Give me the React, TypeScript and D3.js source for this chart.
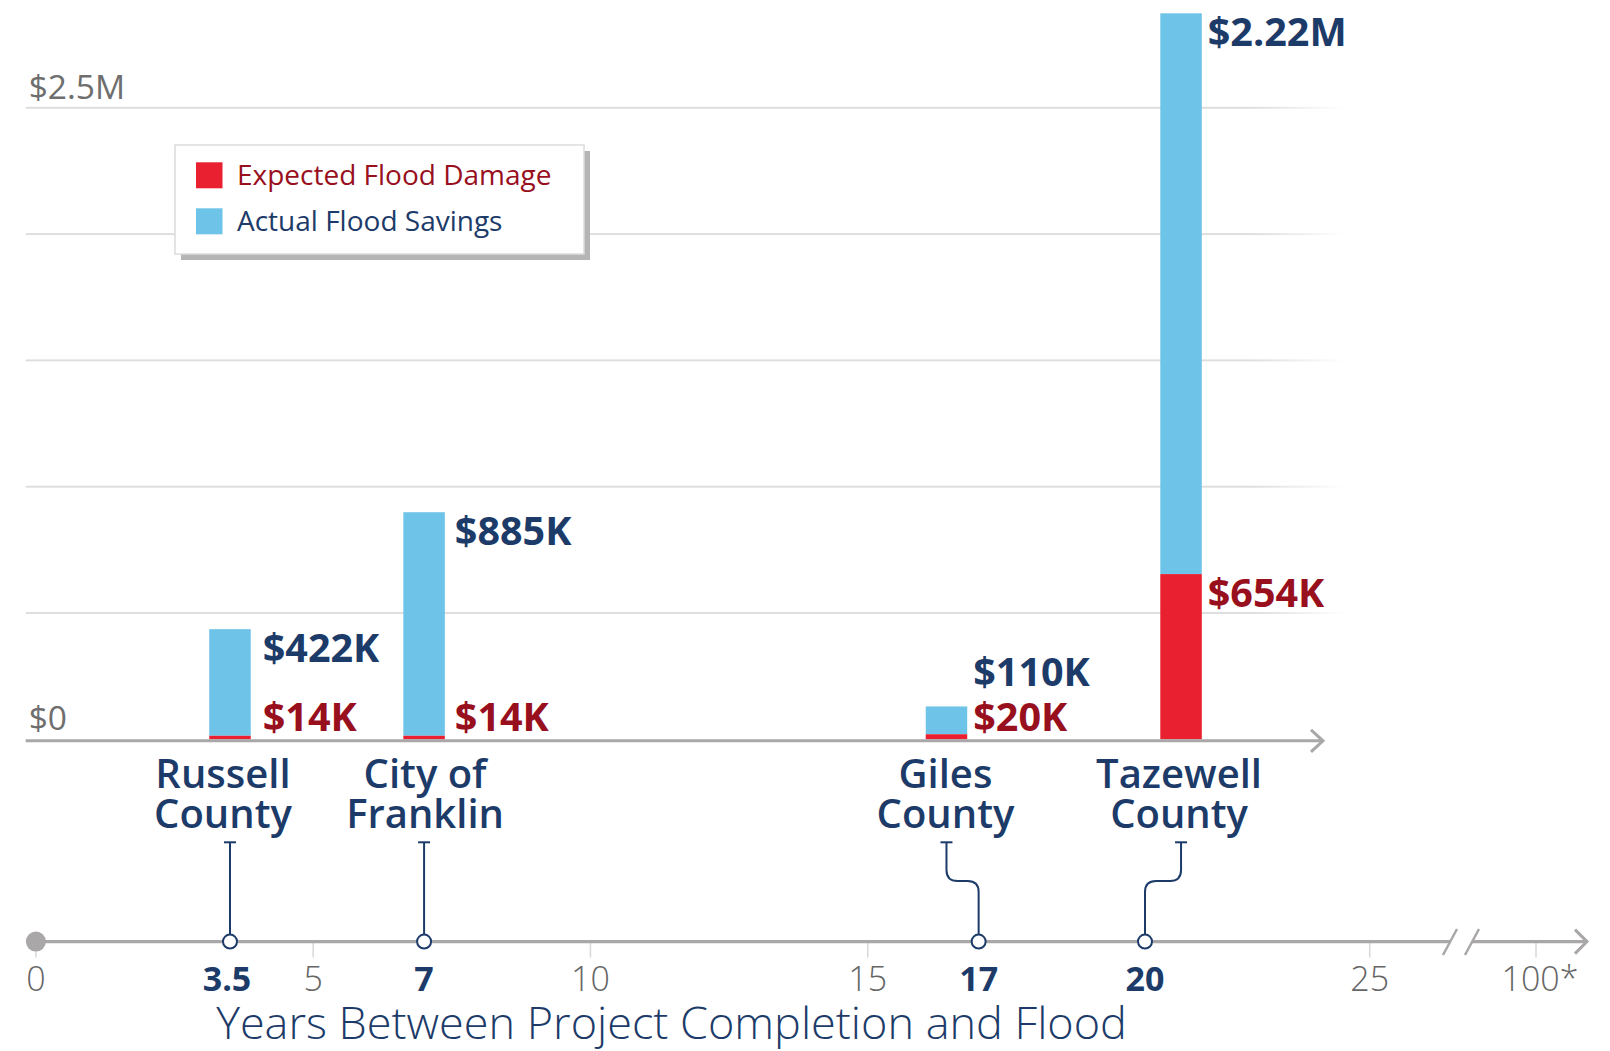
import React from "react";
import * as d3 from "d3";

const categories: string[][] = [
  ["Russell", "County"],
  ["City of", "Franklin"],
  ["Giles", "County"],
  ["Tazewell", "County"],
];
const floodYears = [3.5, 7, 17, 20];
const barSlots = [3.5, 7, 16.42, 20.65];
const expectedDamage = [14000, 14000, 20000, 654000];
const actualSavings = [422000, 885000, 110000, 2220000];
const damageLabels = ["$14K", "$14K", "$20K", "$654K"];
const savingsLabels = ["$422K", "$885K", "$110K", "$2.22M"];
const gridValues = [0, 500000, 1000000, 1500000, 2000000, 2500000];
const yLabelValues = [0, 2500000];
const yLabelTexts = ["$0", "$2.5M"];
const timeTicks = [0, 5, 10, 15, 25, 100];
const timeTickLabels = ["0", "5", "10", "15", "25", "100*"];
const legendItems = ["Expected Flood Damage", "Actual Flood Savings"];

const NAVY = "#1d3b69";
const DARKRED = "#980f1d";
const RED = "#e8202f";
const BLUE = "#6ec4e8";
const GRAY = "#a9a7a7";
const FONT = "'Open Sans', 'Noto Sans', sans-serif";

// layout tweaks (style, not data)
const valueLabelGap = [12, 10, 6, 6];
const catLabelDx = [-7, 1, -1, -2];

export default function App() {
  const W = 1610, H = 1051;
  const y = d3.scaleLinear().domain([0, 2500000]).range([739.3, 107.8]);
  const xTop = d3.scaleLinear().domain([0, 20]).range([35.9, 1145]);
  const xTime = d3.scaleLinear().domain([0, 20, 25, 100]).range([35.9, 1145, 1369.7, 1536]);
  const barW = 41.5;
  const axisY = y(0);
  const tlY = 941.6;
  const gridX0 = 25.7, gridX1 = 1345;

  return (
    <svg width={W} height={H} style={{ position: "absolute", left: 0, top: 0, background: "#fff" }} fontFamily={FONT}>
      <defs>
        <linearGradient id="gridFade" x1={gridX0} x2={gridX1} y1={0} y2={0} gradientUnits="userSpaceOnUse">
          <stop offset="0" stopColor="#dedede" />
          <stop offset="0.93" stopColor="#dedede" />
          <stop offset="1" stopColor="#dedede" stopOpacity="0" />
        </linearGradient>
      </defs>

      {gridValues.slice(1).map((v) => (
        <rect key={v} x={gridX0} y={y(v) - 1} width={gridX1 - gridX0} height={2} fill="url(#gridFade)" />
      ))}

      {yLabelValues.map((v, i) => (
        <text key={v} x={28.7} y={y(v) - 9} fontSize={33.5} fontWeight={400} fill="#6e6e6e">
          {yLabelTexts[i]}
        </text>
      ))}

      <g>
        <rect x={181} y={151} width={409} height={109} fill="#b5b5b5" />
        <rect x={175} y={145} width={409} height={109} fill="#fff" stroke="#dcdcdc" strokeWidth={1.5} />
        {legendItems.map((t, i) => (
          <g key={t}>
            <rect x={196} y={162.3 + i * 46} width={26.5} height={26} fill={i === 0 ? RED : BLUE} />
            <text x={237} y={185 + i * 45.5} fontSize={28} fill={i === 0 ? DARKRED : NAVY}>
              {t}
            </text>
          </g>
        ))}
      </g>

      {barSlots.map((s, i) => {
        const cx = xTop(s);
        const redTop = y(expectedDamage[i]);
        const blueTop = y(expectedDamage[i] + actualSavings[i]);
        const redLabelY = Math.min(axisY - 8, redTop + 33);
        const blueLabelY = Math.min(blueTop + 33, redLabelY - 45);
        const lx = cx + barW / 2 + valueLabelGap[i];
        return (
          <g key={i}>
            <rect x={cx - barW / 2} y={blueTop} width={barW} height={redTop - blueTop} fill={BLUE} />
            <rect x={cx - barW / 2} y={redTop} width={barW} height={axisY - redTop} fill={RED} />
            <text x={lx} y={blueLabelY} fontSize={39.5} fontWeight={700} fill={NAVY}>
              {savingsLabels[i]}
            </text>
            <text x={lx} y={redLabelY} fontSize={39.5} fontWeight={700} fill={DARKRED}>
              {damageLabels[i]}
            </text>
            {categories[i].map((line, j) => (
              <text key={j} x={cx + catLabelDx[i]} y={788.3 + j * 39.4} fontSize={40} fontWeight={600} fill={NAVY} textAnchor="middle">
                {line}
              </text>
            ))}
          </g>
        );
      })}

      <line x1={25.7} x2={1323} y1={axisY + 1.5} y2={axisY + 1.5} stroke={GRAY} strokeWidth={3} />
      <polyline points={`${1311},${axisY - 9.5} ${1323},${axisY + 1.5} ${1311},${axisY + 12.5}`} fill="none" stroke={GRAY} strokeWidth={3} />

      {timeTicks.map((t) => (
        <line key={t} x1={xTime(t)} x2={xTime(t)} y1={tlY} y2={tlY + 16} stroke="#d8d8d8" strokeWidth={1.5} />
      ))}
      <line x1={xTime(0)} x2={1450} y1={tlY} y2={tlY} stroke={GRAY} strokeWidth={3.3} />
      <line x1={1472} x2={1586} y1={tlY} y2={tlY} stroke={GRAY} strokeWidth={3.3} />
      <line x1={1443} y1={955} x2={1457} y2={929} stroke={GRAY} strokeWidth={2.5} />
      <line x1={1465} y1={955} x2={1479} y2={929} stroke={GRAY} strokeWidth={2.5} />
      <polyline points={`${1575},${tlY - 12} ${1587},${tlY} ${1575},${tlY + 12}`} fill="none" stroke={GRAY} strokeWidth={3} />
      <circle cx={xTime(0)} cy={tlY} r={10} fill={GRAY} />

      {timeTicks.map((t, i) => (
        <text key={t} x={xTime(t) + (i === 5 ? 4 : 0)} y={990.7} fontSize={34} fontWeight={300} fill="#666" textAnchor="middle">
          {timeTickLabels[i]}
        </text>
      ))}

      {floodYears.map((yr, i) => {
        const x1 = xTime(yr);
        const x0raw = xTop(barSlots[i]);
        const straight = Math.abs(x0raw - x1) < 4;
        const x0 = straight ? x1 : x0raw;
        const sgn = x1 > x0 ? 1 : -1;
        const r = 11;
        const top = 842.3;
        const bottom = tlY - 7;
        const d = straight
          ? `M${x1},${top} V${bottom}`
          : `M${x0},${top} V870 Q${x0},881 ${x0 + sgn * r},881 H${x1 - sgn * r} Q${x1},881 ${x1},892 V${bottom}`;
        return (
          <g key={i}>
            <line x1={x0 - 6} x2={x0 + 6} y1={top} y2={top} stroke={NAVY} strokeWidth={2} />
            <path d={d} fill="none" stroke={NAVY} strokeWidth={2} />
            <circle cx={x1} cy={tlY} r={7} fill="#fff" stroke={NAVY} strokeWidth={2} />
            <text x={x1 - (i === 0 ? 3 : 0)} y={990.7} fontSize={34} fontWeight={700} fill={NAVY} textAnchor="middle">
              {String(yr)}
            </text>
          </g>
        );
      })}

      <text x={671.5} y={1039} fontSize={45} fontWeight={300} fill={NAVY} textAnchor="middle">
        Years Between Project Completion and Flood
      </text>
    </svg>
  );
}
